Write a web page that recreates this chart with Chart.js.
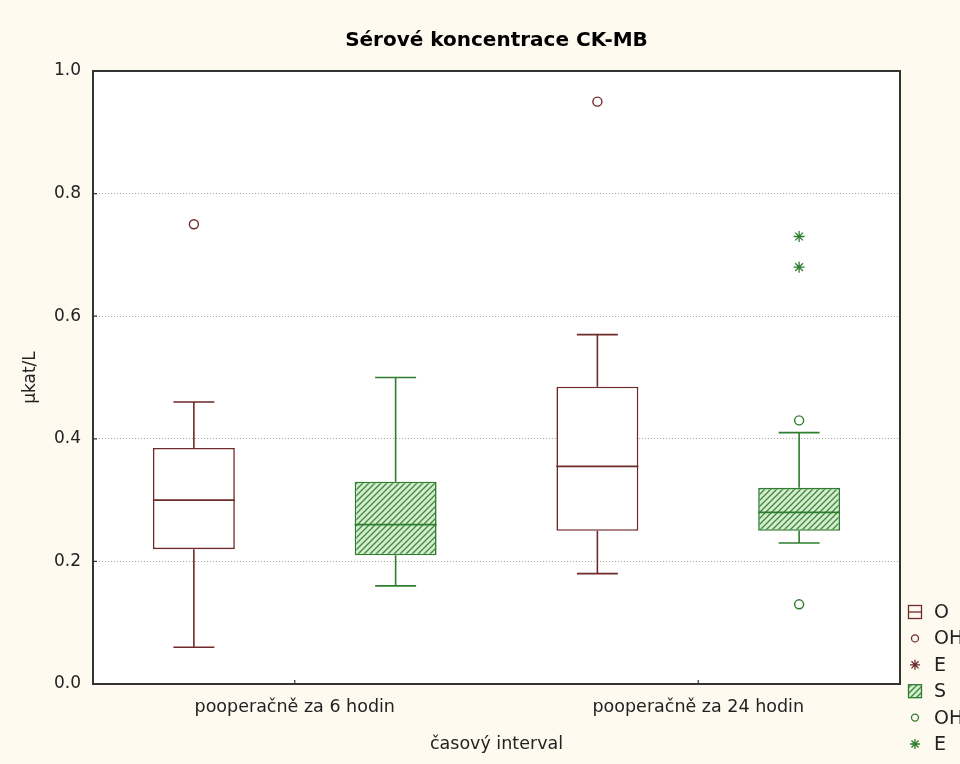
<!DOCTYPE html>
<html>
<head>
<meta charset="utf-8">
<script src="https://cdn.jsdelivr.net/npm/chart.js@4/dist/chart.umd.min.js"></script>
<style>
  html, body { margin: 0; padding: 0; background: #fefaf0; }
  #wrap { width: 960px; height: 764px; }
</style>
</head>
<body>
<div id="wrap"><canvas id="c" width="960" height="764"></canvas></div>
<script>
// ---- data ----
const categories = ['pooperačně za 6 hodin', 'pooperačně za 24 hodin'];
const yTickLabels = ['0.0', '0.2', '0.4', '0.6', '0.8', '1.0'];

// series O
const oMin = [0.06, 0.18];
const oQ1  = [0.22, 0.25];
const oMed = [0.30, 0.355];
const oQ3  = [0.385, 0.485];
const oMax = [0.46, 0.57];
const oOutlierCat = [0, 1];
const oOutlierVal = [0.75, 0.95];
const oExtremeCat = [];
const oExtremeVal = [];

// series S
const sMin = [0.16, 0.23];
const sQ1  = [0.21, 0.25];
const sMed = [0.26, 0.28];
const sQ3  = [0.33, 0.32];
const sMax = [0.50, 0.41];
const sOutlierCat = [1, 1];
const sOutlierVal = [0.43, 0.13];
const sExtremeCat = [1, 1];
const sExtremeVal = [0.73, 0.68];

const legendLabels = ['O', 'OH', 'E', 'S', 'OH', 'E'];

// ---- styles ----
const RED = '#6e2a2a';
const GREEN = '#2f7d2f';
const FONT = 'DejaVu Sans';
const OFF_O = -0.25, OFF_S = 0.25;   // group offsets inside a category (layout)

function hatch() {
  const c = document.createElement('canvas');
  c.width = 6; c.height = 6;
  const x = c.getContext('2d');
  x.fillStyle = '#d6ecd1';
  x.fillRect(0, 0, 6, 6);
  x.strokeStyle = '#3b8a3b';
  x.lineWidth = 1.3;
  x.beginPath();
  x.moveTo(-1, 7); x.lineTo(7, -1);
  x.moveTo(-1, 1); x.lineTo(1, -1);
  x.moveTo(5, 7); x.lineTo(7, 5);
  x.stroke();
  return x.createPattern(c, 'repeat');
}
const hatchPattern = hatch();

const boxes = (q1, q3, off) => q1.map((v, i) => ({ x: i + 0.5 + off, y: [v, q3[i]] }));
const pts = (cats, vals, off) => cats.map((c, i) => ({ x: c + 0.5 + off, y: vals[i] }));

const boxStats = [
  { min: oMin, med: oMed, max: oMax, color: RED },
  { min: sMin, med: sMed, max: sMax, color: GREEN }
];

const bgPlugin = {
  id: 'bg',
  beforeDraw(chart) {
    const { ctx, chartArea: a } = chart;
    ctx.save();
    ctx.fillStyle = '#fefaf0';
    ctx.fillRect(0, 0, chart.width, chart.height);
    ctx.fillStyle = '#ffffff';
    ctx.fillRect(a.left, a.top, a.right - a.left, a.bottom - a.top);
    ctx.restore();
  }
};

const boxPlugin = {
  id: 'boxes',
  afterDatasetsDraw(chart) {
    const { ctx } = chart;
    const y = chart.scales.y;
    ctx.save();
    ctx.lineWidth = 1.6;
    boxStats.forEach((st, di) => {
      const meta = chart.getDatasetMeta(di);
      meta.data.forEach((el, i) => {
        const cx = el.x, w = el.width;
        const top = Math.min(el.y, el.base), bot = Math.max(el.y, el.base);
        ctx.strokeStyle = st.color;
        const yMax = y.getPixelForValue(st.max[i]);
        const yMin = y.getPixelForValue(st.min[i]);
        const yMed = y.getPixelForValue(st.med[i]);
        ctx.beginPath();
        ctx.moveTo(cx, top); ctx.lineTo(cx, yMax);
        ctx.moveTo(cx - w / 4, yMax); ctx.lineTo(cx + w / 4, yMax);
        ctx.moveTo(cx, bot); ctx.lineTo(cx, yMin);
        ctx.moveTo(cx - w / 4, yMin); ctx.lineTo(cx + w / 4, yMin);
        ctx.moveTo(cx - w / 2, yMed); ctx.lineTo(cx + w / 2, yMed);
        ctx.stroke();
      });
    });
    ctx.restore();
  }
};

function drawIcon(ctx, kind, color, cx, cy) {
  ctx.save();
  ctx.strokeStyle = color;
  ctx.lineWidth = 1.3;
  if (kind === 'box' || kind === 'hbox') {
    const s = 13;
    if (kind === 'hbox') {
      ctx.fillStyle = hatchPattern;
      ctx.fillRect(cx - s / 2, cy - s / 2, s, s);
    }
    ctx.strokeRect(cx - s / 2, cy - s / 2, s, s);
    if (kind === 'box') {
      ctx.beginPath(); ctx.moveTo(cx - s / 2, cy); ctx.lineTo(cx + s / 2, cy); ctx.stroke();
    }
  } else if (kind === 'circle') {
    ctx.beginPath(); ctx.arc(cx, cy, 3.5, 0, Math.PI * 2); ctx.stroke();
  } else if (kind === 'star') {
    const r = 5;
    ctx.beginPath();
    for (let k = 0; k < 4; k++) {
      const a = k * Math.PI / 4;
      ctx.moveTo(cx - r * Math.cos(a), cy - r * Math.sin(a));
      ctx.lineTo(cx + r * Math.cos(a), cy + r * Math.sin(a));
    }
    ctx.stroke();
  }
  ctx.restore();
}

const framePlugin = {
  id: 'frame',
  afterDraw(chart) {
    const { ctx, chartArea: a } = chart;
    const x = chart.scales.x, y = chart.scales.y;
    ctx.save();
    ctx.strokeStyle = '#333333';
    ctx.lineWidth = 2;
    ctx.strokeRect(a.left, a.top, a.right - a.left, a.bottom - a.top);
    ctx.lineWidth = 1.2;
    ctx.beginPath();
    y.ticks.forEach(t => {
      const py = y.getPixelForValue(t.value);
      ctx.moveTo(a.left, py); ctx.lineTo(a.left + 4, py);
    });
    x.ticks.forEach(t => {
      const px = x.getPixelForValue(t.value);
      ctx.moveTo(px, a.bottom); ctx.lineTo(px, a.bottom - 4);
    });
    ctx.stroke();

    // legend
    const kinds = ['box', 'circle', 'star', 'hbox', 'circle', 'star'];
    const colors = [RED, RED, RED, GREEN, GREEN, GREEN];
    ctx.font = '19px "' + FONT + '"';
    ctx.textBaseline = 'middle';
    ctx.textAlign = 'left';
    legendLabels.forEach((lab, i) => {
      const cy = 612 + i * 26.4;
      drawIcon(ctx, kinds[i], colors[i], 915, cy);
      ctx.fillStyle = '#222222';
      ctx.fillText(lab, 934, cy + 1);
    });
    ctx.restore();
  }
};

new Chart(document.getElementById('c'), {
  type: 'bar',
  data: {
    datasets: [
      { label: 'O', data: boxes(oQ1, oQ3, OFF_O), backgroundColor: '#ffffff', borderColor: RED,
        borderWidth: 1.6, borderSkipped: false, grouped: false,
        barPercentage: 0.406, categoryPercentage: 1.0 },
      { label: 'S', data: boxes(sQ1, sQ3, OFF_S), backgroundColor: hatchPattern, borderColor: GREEN,
        borderWidth: 1.6, borderSkipped: false, grouped: false,
        barPercentage: 0.406, categoryPercentage: 1.0 },
      { type: 'scatter', label: 'OH', data: pts(oOutlierCat, oOutlierVal, OFF_O),
        pointStyle: 'circle', radius: 4.5, borderColor: RED, backgroundColor: '#ffffff', borderWidth: 1.4 },
      { type: 'scatter', label: 'E', data: pts(oExtremeCat, oExtremeVal, OFF_O),
        pointStyle: 'star', radius: 5.5, borderColor: RED, borderWidth: 1.3 },
      { type: 'scatter', label: 'OH', data: pts(sOutlierCat, sOutlierVal, OFF_S),
        pointStyle: 'circle', radius: 4.5, borderColor: GREEN, backgroundColor: '#ffffff', borderWidth: 1.4 },
      { type: 'scatter', label: 'E', data: pts(sExtremeCat, sExtremeVal, OFF_S),
        pointStyle: 'star', radius: 5.5, borderColor: GREEN, borderWidth: 1.3 }
    ]
  },
  options: {
    responsive: false,
    animation: false,
    events: [],
    layout: { padding: { left: 0, right: 60, top: 0, bottom: 0 } },
    plugins: {
      legend: { display: false },
      tooltip: { enabled: false },
      title: {
        display: true, fullSize: false,
        text: 'Sérové koncentrace CK-MB',
        color: '#000000',
        font: { family: FONT, size: 20, weight: 'bold', lineHeight: 1.2 },
        padding: { top: 29, bottom: 18 }
      }
    },
    scales: {
      x: {
        type: 'linear', min: 0, max: categories.length, offset: false,
        grid: { display: false, drawTicks: false },
        border: { display: false },
        afterBuildTicks: s => { s.ticks = categories.map((c, i) => ({ value: i + 0.5 })); },
        ticks: { color: '#222222', padding: 13, font: { family: FONT, size: 17.5 },
                 autoSkip: false, maxRotation: 0,
                 callback: (v, i) => categories[i] },
        title: { display: true, text: 'časový interval', color: '#222222',
                 font: { family: FONT, size: 17.5, lineHeight: 1.2 }, padding: { top: 0, bottom: 9 } },
        afterFit: s => { s.height = 80; }
      },
      y: {
        min: 0, max: 1,
        grid: { color: '#a8a8a8', lineWidth: 1, drawTicks: false },
        border: { display: false, dash: [1, 2] },
        ticks: { stepSize: 0.2, color: '#222222', padding: 12,
                 font: { family: FONT, size: 17 },
                 callback: (v) => yTickLabels[Math.round(v / 0.2)] },
        title: { display: true, text: 'µkat/L', color: '#222222',
                 font: { family: FONT, size: 17, lineHeight: 1.2 }, padding: { top: 20, bottom: 0 } },
        afterFit: s => { s.width = 93; }
      }
    }
  },
  plugins: [bgPlugin, boxPlugin, framePlugin]
});
</script>
</body>
</html>
